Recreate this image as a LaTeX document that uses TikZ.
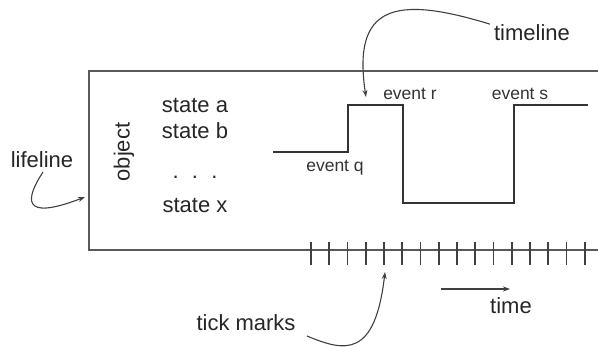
\documentclass[tikz,border=0pt]{standalone}
\usepackage{fontspec}
\setmainfont{Liberation Sans}
\usetikzlibrary{arrows.meta}
\tikzset{lbl/.style={inner sep=0pt,anchor=base,font=\fontsize{22}{26}\selectfont,text=black!85},
 ev/.style={inner sep=0pt,anchor=base,font=\fontsize{17.5}{21}\selectfont,text=black!80},
 frm/.style={draw=black!65,line width=1.6pt},sig/.style={draw=black!80,line width=2.2pt},
 tk/.style={draw=black!75,line width=1.6pt},
 ca/.style={draw=black!75,line width=1.1pt,-{Stealth[length=7pt,width=5pt]}}}
\begin{document}
\begin{tikzpicture}[x=1pt,y=-1pt]
\useasboundingbox(0,0)rectangle(598,346);
\draw[frm](598,71)--(89,71)--(89,250)--(598,250);
\draw[sig](273,152)--(348,152)--(348,105)--(403,105)--(403,203)--(514,203)--(514,105)--(588,105);
\foreach \i in {0,...,15}{\draw[tk]({311+18.25*\i},242)--({311+18.25*\i},265);}
\node[lbl](sa)at(195,112){state a};\node[lbl](sb)at(195,138){state b};
\node[lbl](sx)at(195,212){state x};\node[lbl,anchor=center](dt)at(195,177){.\hspace{0.6em}.\hspace{0.6em}.};
\node[lbl,anchor=center,rotate=90](ob)at(124,152){object};
\node[ev](er)at(410,99){event r};\node[ev](es)at(520,99){event s};\node[ev](eq)at(335,171){event q};
\node[lbl](tl)at(532,40){timeline};\node[lbl](ll)at(42,167){lifeline};
\node[lbl](tm)at(246,330){tick marks};\node[lbl](ti)at(511,313){time};
\coordinate(tlp)at(366,97);\coordinate(llp)at(85,197);\coordinate(tmp)at(385,272);
\coordinate(t0)at(441,289);\coordinate(t1)at(510,289);
\draw[ca](tl.west)++(-4,-8)coordinate(tls)..controls(395,-5)and(352,5)..(tlp);
\draw[ca](43,172)coordinate(lls)..controls(26,198)and(20,222)..(llp);
\draw[ca](307,336)coordinate(tms)..controls(345,352)and(375,358)..(tmp);
\draw[ca](t0)--(t1);
\end{tikzpicture}
\end{document}
